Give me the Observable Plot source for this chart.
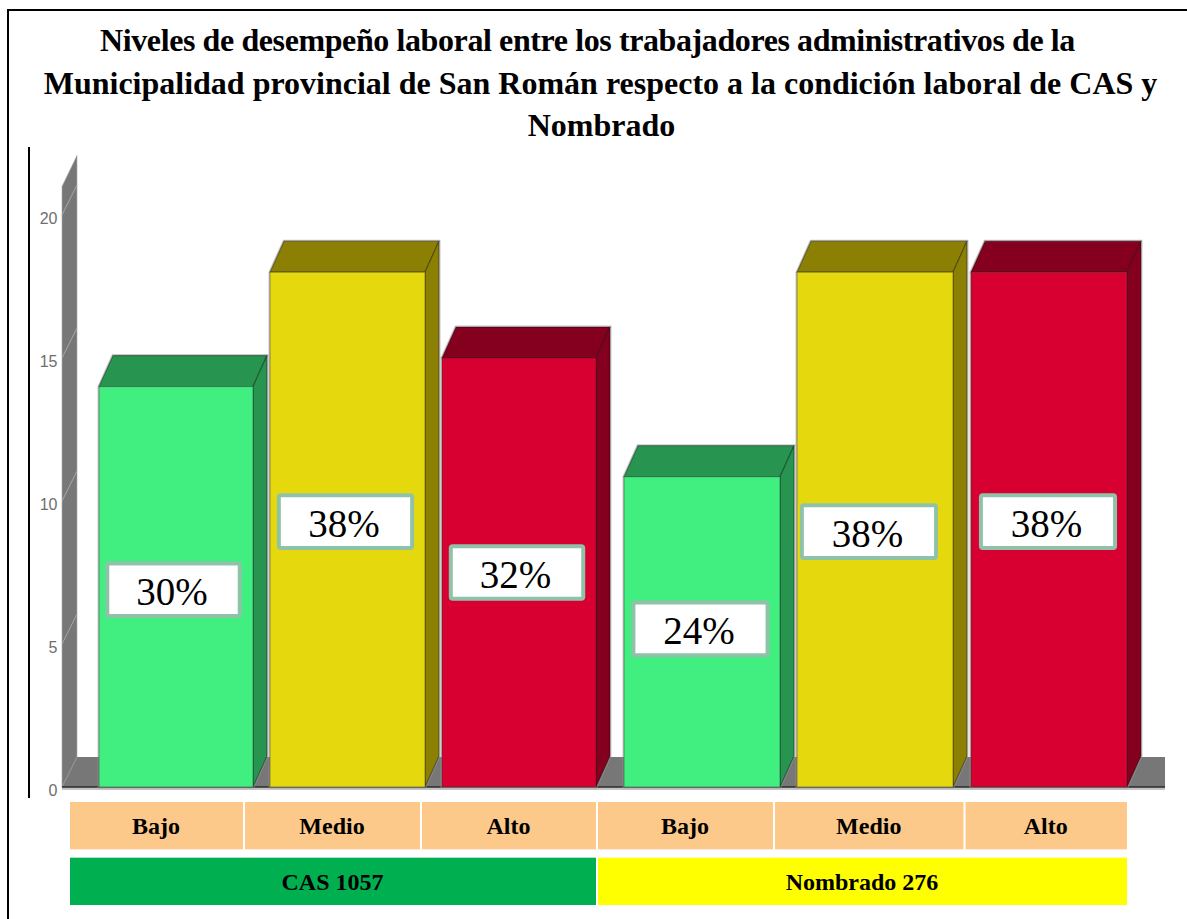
<!DOCTYPE html>
<html lang="es">
<head>
<meta charset="utf-8">
<title>Niveles de desempeño laboral</title>
<script src="https://cdn.jsdelivr.net/npm/d3@7"></script>
<script src="https://cdn.jsdelivr.net/npm/@observablehq/plot@0.6"></script>
<style>
  html, body { margin: 0; padding: 0; background: #fff; }
  #page { position: relative; width: 1187px; height: 919px; overflow: hidden; }
  #frame { position: absolute; left: 7px; top: 9px; right: -5px; bottom: -5px;
           border-left: 2.5px solid #000; border-top: 2.5px solid #000; pointer-events: none; }
  #rule { position: absolute; left: 28px; top: 147px; width: 1.5px; height: 651px; background: #000; }
  #title { height: 147px; box-sizing: border-box; padding-top: 19px; text-align: center;
           font: bold 32px/42.5px "Liberation Serif", serif; color: #000; }
  #title span { display: block; position: relative; white-space: nowrap; }
  #title .l1 { left: -6px; letter-spacing: -0.4px; }
  #title .l2 { left: 7px; }
  #title .l3 { left: 8px; }
  svg { display: block; }
</style>
</head>
<body>
<div id="page">
  <div id="title"><span class="l1">Niveles de desempeño laboral entre los trabajadores administrativos de la</span><span class="l2">Municipalidad provincial de San Román respecto a la condición laboral de CAS y</span><span class="l3">Nombrado</span></div>
  <div id="chart"></div>
  <div id="table"></div>
  <div id="frame"></div>
  <div id="rule"></div>
</div>
<script>
// ---- data ----
const levels = ["Bajo", "Medio", "Alto", "Bajo", "Medio", "Alto"];
const groups = ["CAS 1057", "Nombrado 276"];
const groupSizes = [3, 3];
const values = [14, 18, 15, 10.85, 18, 18];
const percents = ["30%", "38%", "32%", "24%", "38%", "38%"];
const yTicks = [0, 5, 10, 15, 20];

// ---- layout and styling ----
const faceColors = {
  Bajo:  {front: "#41EE80", shade: "#27944F"},
  Medio: {front: "#E5D90D", shade: "#8B8003"},
  Alto:  {front: "#D70030", shade: "#84001E"}
};
const barEdges = [99, 253, 270, 425, 442, 596, 624, 780, 797, 953, 971, 1127];
const cellEdges = [69, 244, 421, 597, 774, 964.5, 1128];
const labelNudgeX = [-2.5, -2, -2, -1.5, -6, -1];   // px
const labelNudgeY = [3, -8, 0, -3, 2, -8];          // px
const depthX = 14, depthY = 31;
const wallTop = 21;
const pxPerUnit = 28.6;

const bars = values.map((value, i) => ({
  i, value, level: levels[i], percent: percents[i],
  labelX: 2 * i + 0.5 + labelNudgeX[i] / 155,
  labelY: value / 2 - labelNudgeY[i] / pxPerUnit
}));

const poly = (g, pts, attrs) => {
  const p = g.append("polygon").attr("points", pts.map(d => d.join(",")).join(" "));
  for (const k in attrs) p.attr(k, attrs[k]);
  return p;
};
const line = (g, a, b, stroke, width) =>
  g.append("line").attr("x1", a[0]).attr("y1", a[1]).attr("x2", b[0]).attr("y2", b[1])
    .attr("stroke", stroke).attr("stroke-width", width);

// 3-D backdrop: left wall and floor, placed through the plot's scales
function backdrop(index, {x, y}) {
  const g = d3.create("svg:g");
  const left = x(0) - 37, right = x(11) + 38, y0 = y(0);
  const gray = "#777";
  poly(g, [[left, y0 + 3], [right, y0 + 3], [right, y0 - 1], [left, y0 - 1]], {fill: "#c4c4c4"});
  poly(g, [[left, y0], [left + depthX + 1, y0 - depthY + 1], [right, y0 - depthY + 1], [right, y0]], {fill: gray});
  poly(g, [[left, y0], [left, y(wallTop)], [left + depthX + 1, y(wallTop) - depthY], [left + depthX + 1, y0 - depthY + 1]],
       {fill: gray, stroke: "#aaa", "stroke-width": 0.6});
  for (const t of yTicks.slice(1)) {
    line(g, [left, y(t)], [left + depthX + 1, y(t) - depthY + 1], "#a8a8a8", 1);
  }
  line(g, [left, y0], [left + depthX + 1, y0 - depthY + 1], "#8e8e8e", 1);
  line(g, [left, y0], [right, y0], "#2a2a2a", 1.5);
  return g.node();
}

// 3-D top and side of each bar, derived from the value through the scales
function barFaces(index, {x, y}) {
  const g = d3.create("svg:g");
  for (const b of bars) {
    const x0 = x(2 * b.i), x1 = x(2 * b.i + 1), yt = y(b.value), y0 = y(0);
    const shade = faceColors[b.level].shade;
    const silhouette = [[x0, y0], [x0, yt], [x0 + depthX, yt - depthY], [x1 + depthX, yt - depthY], [x1 + depthX, y0 - depthY], [x1, y0]];
    poly(g, silhouette, {fill: "none", stroke: "#9a9a9a", "stroke-width": 3, "stroke-opacity": 0.55});
    poly(g, [[x0, yt], [x0 + depthX, yt - depthY], [x1 + depthX, yt - depthY], [x1, yt]],
         {fill: shade, stroke: "#000", "stroke-opacity": 0.35, "stroke-width": 1.2});
    poly(g, [[x1, yt], [x1 + depthX, yt - depthY], [x1 + depthX, y0 - depthY], [x1, y0]],
         {fill: shade, stroke: "#000", "stroke-opacity": 0.35, "stroke-width": 1.2});
  }
  return g.node();
}

const chart = Plot.plot({
  width: 1187, height: 651,
  marginLeft: 62, marginRight: 0, marginTop: 0, marginBottom: 0,
  style: {overflow: "visible", background: "transparent"},
  x: {type: "linear", domain: barEdges.map((_, i) => i), range: barEdges, axis: null},
  y: {domain: [0, 20], range: [640, 640 - 20 * pxPerUnit], axis: null},
  color: {domain: Object.keys(faceColors), range: Object.values(faceColors).map(d => d.front)},
  marks: [
    backdrop,
    Plot.axisY({
      ticks: yTicks, tickSize: 0, tickPadding: 5, label: null, dy: 3,
      fontSize: 16, fontFamily: "'Liberation Sans', sans-serif", color: "#6e6e6e",
      letterSpacing: "-1.6px"
    }),
    barFaces,
    Plot.rect(bars, {
      x1: d => 2 * d.i, x2: d => 2 * d.i + 1, y1: 0, y2: "value",
      fill: "level", stroke: "#2a2a2a", strokeOpacity: 0.45, strokeWidth: 1
    }),
    Plot.rect(bars, {
      x1: d => d.labelX - 0.43, x2: d => d.labelX + 0.43,
      y1: d => d.labelY - 0.92, y2: d => d.labelY + 0.92,
      fill: "#fff", stroke: "#8FC3A9", strokeWidth: 4, rx: 2
    }),
    Plot.text(bars, {
      x: "labelX", y: "labelY", text: "percent", dx: -2, dy: 2.5,
      fontSize: 39, fontFamily: "'Liberation Serif', serif", fill: "#000"
    })
  ]
});
document.getElementById("chart").append(chart);

// ---- table beneath the chart ----
const levelCells = levels.map((name, i) => ({row: "Nivel", name, from: i, to: i + 1, fill: "#FDC98A"}));
const groupFills = ["#00B050", "#FFFF00"];
let start = 0;
const groupCells = groups.map((name, i) => {
  const cell = {row: "Condición", name, from: start, to: start + groupSizes[i], fill: groupFills[i]};
  start += groupSizes[i];
  return cell;
});
const cells = [...levelCells, ...groupCells];
// the cell's visual centre, expressed in the table's piecewise x domain
const edgeToDomain = d3.scaleLinear().domain(cellEdges).range(cellEdges.map((_, i) => i));
const cellCentre = d => edgeToDomain((cellEdges[d.from] + cellEdges[d.to]) / 2);

const table = Plot.plot({
  width: 1187, height: 121,
  margin: 0,
  style: {overflow: "visible", background: "transparent"},
  x: {type: "linear", domain: cellEdges.map((_, i) => i), range: cellEdges, axis: null},
  y: {type: "band", domain: ["Nivel", "Condición"], range: [4, 107], paddingInner: 0.15, paddingOuter: 0, round: false, axis: null},
  color: {type: "identity"},
  marks: [
    Plot.barX(cells, {x1: "from", x2: "to", y: "row", fill: "fill", insetLeft: 1, insetRight: 1}),
    Plot.text(cells, {
      x: cellCentre, y: "row", text: "name", dx: -1,
      fontSize: 24, fontWeight: "bold", fontFamily: "'Liberation Serif', serif", fill: "#000"
    })
  ]
});
document.getElementById("table").append(table);
</script>
</body>
</html>
